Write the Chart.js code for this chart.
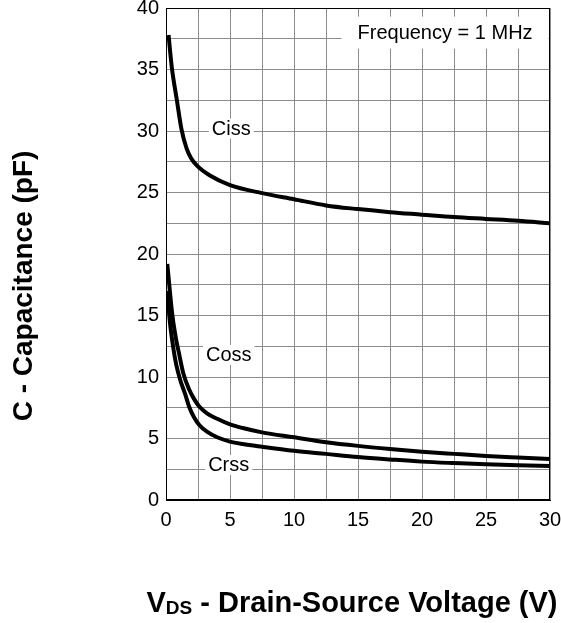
<!DOCTYPE html>
<html>
<head>
<meta charset="utf-8">
<script src="https://cdn.jsdelivr.net/npm/chart.js@4/dist/chart.umd.min.js"></script>
<style>
  html, body { margin: 0; padding: 0; background: #fff; }
  canvas { display: block; }
</style>
</head>
<body>
<canvas id="capChart" width="561" height="623"></canvas>
<script>
// Valores (V, pF)
const cissV = [0.2, 0.45, 0.85, 1.2, 1.6, 1.95, 2.4, 3.4, 5, 7.5, 10, 12.5, 15, 17.5, 20, 22.5, 25, 27.5, 30];
const cissC = [37.8, 35.2, 32.5, 30.2, 28.6, 27.8, 27.2, 26.4, 25.6, 24.95, 24.45, 23.95, 23.65, 23.4, 23.2, 23.0, 22.85, 22.7, 22.5];

const cossV = [0.1, 0.3, 0.5, 0.8, 1.0, 1.35, 1.8, 2.2, 2.6, 3.2, 4, 5, 6, 7.5, 10, 12.5, 15, 17.5, 20, 22.5, 25, 27.5, 30];
const cossC = [19.2, 17.0, 15.0, 13.0, 12.0, 10.3, 9.0, 8.2, 7.6, 7.05, 6.6, 6.15, 5.85, 5.5, 5.1, 4.7, 4.4, 4.15, 3.93, 3.75, 3.58, 3.45, 3.33];

const crssV = [0.1, 0.3, 0.55, 0.8, 1.1, 1.5, 1.8, 2.2, 2.6, 3.2, 4, 5, 6, 7.5, 10, 12.5, 15, 17.5, 20, 22.5, 25, 27.5, 30];
const crssC = [17.0, 14.5, 12.5, 11.0, 9.8, 8.6, 7.6, 6.7, 6.1, 5.55, 5.1, 4.75, 4.55, 4.33, 4.0, 3.75, 3.5, 3.3, 3.12, 3.0, 2.9, 2.82, 2.76];

// Rótulos das curvas (texto, V, pF)
const curveLabels = ['Ciss', 'Coss', 'Crss'];
const curveLabelV = [5.1, 4.9, 4.9];
const curveLabelC = [30.2, 11.8, 2.85];

const noteText = 'Frequency = 1 MHz';
const noteV = 21.8;
const noteC = 38.0;

const FONT = '"Liberation Sans", Arial, sans-serif';

function toPoints(xs, ys) {
    return xs.map((x, i) => ({ x: x, y: ys[i] }));
}

function curve(label, xs, ys) {
    return {
        label: label,
        data: toPoints(xs, ys),
        borderColor: '#000',
        borderWidth: 4,
        pointRadius: 0,
        fill: false,
        cubicInterpolationMode: 'monotone'
    };
}

// Fundo branco atrás dos rótulos, borda superior/direita e títulos dos eixos
const annotations = {
    id: 'annotations',
    afterDraw(chart) {
        const ctx = chart.ctx;
        const xs = chart.scales.x, ys = chart.scales.y;
        const a = chart.chartArea;

        ctx.save();
        ctx.strokeStyle = '#000';
        ctx.lineWidth = 1;
        ctx.strokeRect(a.left + 0.5, a.top + 0.5, a.right - a.left - 1, a.bottom - a.top - 1);

        ctx.font = '20px ' + FONT;
        ctx.textAlign = 'center';
        ctx.textBaseline = 'middle';
        curveLabels.forEach((t, i) => {
            const px = xs.getPixelForValue(curveLabelV[i]);
            const py = ys.getPixelForValue(curveLabelC[i]);
            const w = ctx.measureText(t).width;
            ctx.fillStyle = '#fff';
            ctx.fillRect(px - w / 2 - 3, py - 10, w + 6, 20);
            ctx.fillStyle = '#000';
            ctx.fillText(t, px, py + 1);
        });

        const nx = xs.getPixelForValue(noteV);
        const ny = ys.getPixelForValue(noteC);
        const nw = ctx.measureText(noteText).width;
        ctx.fillStyle = '#fff';
        ctx.fillRect(nx - nw / 2 - 16, ny - 16, nw + 32, 32);
        ctx.fillStyle = '#000';
        ctx.fillText(noteText, nx, ny + 1);

        // Título do eixo Y
        ctx.save();
        ctx.translate(24, 286);
        ctx.rotate(-Math.PI / 2);
        ctx.font = 'bold 28px ' + FONT;
        ctx.fillText('C - Capacitance (pF)', 0, 0);
        ctx.restore();

        // Título do eixo X com subscrito
        const big = 'bold 29px ' + FONT, small = 'bold 19px ' + FONT;
        ctx.textAlign = 'left';
        ctx.textBaseline = 'alphabetic';
        ctx.font = big;
        const wV = ctx.measureText('V').width;
        const rest = ' - Drain-Source Voltage (V)';
        const wRest = ctx.measureText(rest).width;
        ctx.font = small;
        const wDS = ctx.measureText('DS').width;
        const x0 = 352 - (wV + wDS + wRest) / 2;
        const base = 612;
        ctx.font = big;
        ctx.fillText('V', x0, base);
        ctx.font = small;
        ctx.fillText('DS', x0 + wV, base + 2);
        ctx.font = big;
        ctx.fillText(rest, x0 + wV + wDS, base);
        ctx.restore();
    }
};

new Chart(document.getElementById('capChart'), {
    type: 'line',
    data: {
        datasets: [
            curve('Ciss', cissV, cissC),
            curve('Coss', cossV, cossC),
            curve('Crss', crssV, crssC)
        ]
    },
    options: {
        responsive: false,
        animation: false,
        layout: { padding: { left: 0, top: 8, right: 11, bottom: 0 } },
        plugins: {
            legend: { display: false },
            tooltip: { enabled: false }
        },
        scales: {
            x: {
                type: 'linear',
                min: 0,
                max: 30,
                grid: { color: '#8c8c8c', lineWidth: 1, drawTicks: false },
                border: { color: '#000', width: 1 },
                ticks: {
                    stepSize: 2.5,
                    padding: 8,
                    color: '#000',
                    font: { family: FONT, size: 20 },
                    maxRotation: 0,
                    autoSkip: false,
                    callback: v => (v % 5 === 0 ? v : '')
                },
                afterFit(s) {
                    s.height = 123;
                    s.paddingLeft = 0;
                    s.paddingRight = 0;
                }
            },
            y: {
                min: 0,
                max: 40,
                grid: { color: '#8c8c8c', lineWidth: 1, drawTicks: false },
                border: { color: '#000', width: 1 },
                ticks: {
                    stepSize: 2.5,
                    padding: 7,
                    color: '#000',
                    font: { family: FONT, size: 20 },
                    autoSkip: false,
                    callback: v => (v % 5 === 0 ? v : '')
                },
                afterFit(s) {
                    s.width = 166;
                    s.paddingTop = 0;
                    s.paddingBottom = 0;
                }
            }
        }
    },
    plugins: [annotations]
});
</script>
</body>
</html>
